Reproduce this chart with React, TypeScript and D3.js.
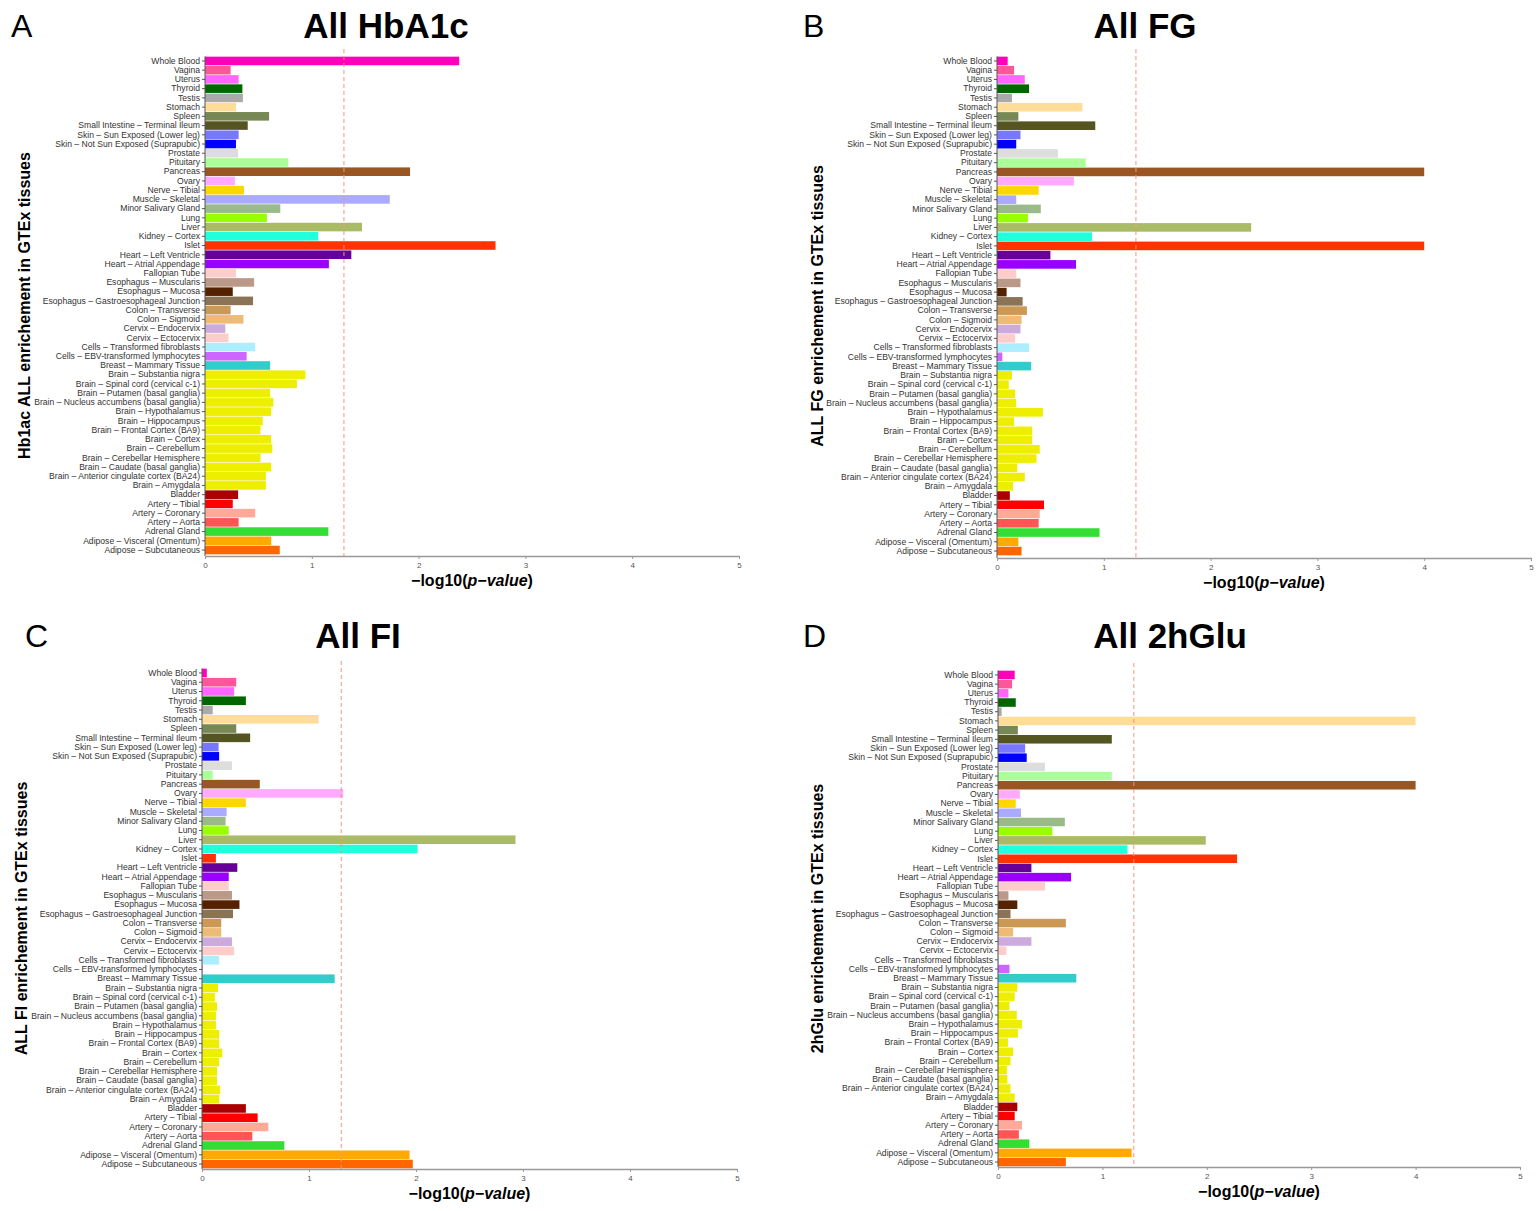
import React, { useEffect, useRef } from "react";
import * as d3 from "d3";

// GTEx tissues, top to bottom
const tissues = [
  "Whole Blood", "Vagina", "Uterus", "Thyroid", "Testis", "Stomach", "Spleen",
  "Small Intestine – Terminal Ileum", "Skin – Sun Exposed (Lower leg)",
  "Skin – Not Sun Exposed (Suprapubic)", "Prostate", "Pituitary", "Pancreas", "Ovary",
  "Nerve – Tibial", "Muscle – Skeletal", "Minor Salivary Gland", "Lung", "Liver",
  "Kidney – Cortex", "Islet", "Heart – Left Ventricle", "Heart – Atrial Appendage",
  "Fallopian Tube", "Esophagus – Muscularis", "Esophagus – Mucosa",
  "Esophagus – Gastroesophageal Junction", "Colon – Transverse", "Colon – Sigmoid",
  "Cervix – Endocervix", "Cervix – Ectocervix", "Cells – Transformed fibroblasts",
  "Cells – EBV-transformed lymphocytes", "Breast – Mammary Tissue",
  "Brain – Substantia nigra", "Brain – Spinal cord (cervical c-1)",
  "Brain – Putamen (basal ganglia)", "Brain – Nucleus accumbens (basal ganglia)",
  "Brain – Hypothalamus", "Brain – Hippocampus", "Brain – Frontal Cortex (BA9)",
  "Brain – Cortex", "Brain – Cerebellum", "Brain – Cerebellar Hemisphere",
  "Brain – Caudate (basal ganglia)", "Brain – Anterior cingulate cortex (BA24)",
  "Brain – Amygdala", "Bladder", "Artery – Tibial", "Artery – Coronary", "Artery – Aorta",
  "Adrenal Gland", "Adipose – Visceral (Omentum)", "Adipose – Subcutaneous",
];

const tissueColors = [
  "#FF00BB", "#FF5599", "#FF66FF", "#006600", "#AAAAAA", "#FFDD99", "#778855",
  "#555522", "#7777FF", "#0000FF", "#DDDDDD", "#AAFF99", "#995522", "#FFAAFF",
  "#FFD700", "#AAAAFF", "#99BB88", "#99FF00", "#AABB66", "#22FFDD", "#FF3300",
  "#660099", "#9900FF", "#FFCCCC", "#BB9988", "#552200", "#8B7355", "#CC9955",
  "#EEBB77", "#CCAADD", "#FFCCCC", "#AAEEFF", "#CC66FF", "#33CCCC",
  "#EEEE00", "#EEEE00", "#EEEE00", "#EEEE00", "#EEEE00", "#EEEE00", "#EEEE00",
  "#EEEE00", "#EEEE00", "#EEEE00", "#EEEE00", "#EEEE00", "#EEEE00",
  "#AA0000", "#FF0000", "#FFAA99", "#FF5555", "#33DD33", "#FFAA00", "#FF6600",
];

// -log10(p-value) per tissue
const hba1c = [
  2.38, 0.24, 0.315, 0.35, 0.355, 0.29, 0.6, 0.4, 0.315, 0.29, 0.31, 0.78, 1.92, 0.28,
  0.365, 1.73, 0.705, 0.58, 1.47, 1.06, 2.72, 1.37, 1.16, 0.29, 0.46, 0.26, 0.45, 0.24,
  0.36, 0.19, 0.22, 0.47, 0.39, 0.61, 0.94, 0.86, 0.61, 0.64, 0.62, 0.54, 0.52, 0.62,
  0.63, 0.52, 0.62, 0.57, 0.57, 0.31, 0.26, 0.47, 0.315, 1.155, 0.62, 0.7,
];
const fg = [
  0.1, 0.16, 0.26, 0.3, 0.14, 0.8, 0.2, 0.92, 0.22, 0.18, 0.57, 0.83, 4.0, 0.72, 0.39,
  0.18, 0.41, 0.29, 2.38, 0.89, 4.0, 0.5, 0.74, 0.18, 0.22, 0.09, 0.24, 0.28, 0.23,
  0.22, 0.17, 0.3, 0.05, 0.32, 0.14, 0.11, 0.17, 0.18, 0.43, 0.16, 0.33, 0.33, 0.4,
  0.37, 0.19, 0.26, 0.15, 0.12, 0.44, 0.4, 0.39, 0.96, 0.2, 0.23,
];
const fi = [
  0.045, 0.32, 0.3, 0.41, 0.1, 1.09, 0.32, 0.45, 0.155, 0.16, 0.28, 0.1, 0.54, 1.32,
  0.41, 0.23, 0.22, 0.25, 2.93, 2.015, 0.13, 0.33, 0.25, 0.25, 0.28, 0.35, 0.29, 0.18,
  0.18, 0.28, 0.3, 0.16, 0.005, 1.24, 0.15, 0.12, 0.14, 0.13, 0.13, 0.16, 0.16, 0.19,
  0.16, 0.14, 0.14, 0.17, 0.16, 0.41, 0.52, 0.62, 0.47, 0.77, 1.94, 1.97,
];
const glu2h = [
  0.16, 0.135, 0.1, 0.17, 0.035, 4.0, 0.19, 1.09, 0.26, 0.275, 0.45, 1.09, 4.0, 0.21,
  0.17, 0.22, 0.64, 0.52, 1.99, 1.24, 2.29, 0.32, 0.7, 0.45, 0.1, 0.185, 0.12, 0.65,
  0.145, 0.32, 0.08, 0.01, 0.11, 0.75, 0.185, 0.16, 0.11, 0.18, 0.23, 0.19, 0.095,
  0.145, 0.12, 0.085, 0.09, 0.12, 0.16, 0.185, 0.16, 0.23, 0.2, 0.3, 1.28, 0.65,
];

const xTicks = [0, 1, 2, 3, 4, 5];
const threshold = -Math.log10(0.05);

const panels = [
  { letter: "A", title: "All HbA1c", ylab: "Hb1ac ALL enrichement in GTEx tissues", values: hba1c,
    x0: 205, x5: 739, c0: 61, c1: 550, axisY: 556, ylabX: 30, letterX: 11, titleX: 386, topY: 0 },
  { letter: "B", title: "All FG", ylab: "ALL FG enrichement in GTEx tissues", values: fg,
    x0: 997, x5: 1531, c0: 61, c1: 551, axisY: 558, ylabX: 823, letterX: 803, titleX: 1145, topY: 0 },
  { letter: "C", title: "All FI", ylab: "ALL FI enrichement in GTEx tissues", values: fi,
    x0: 202, x5: 737, c0: 673, c1: 1164, axisY: 1169, ylabX: 27, letterX: 25, titleX: 358, topY: 610 },
  { letter: "D", title: "All 2hGlu", ylab: "2hGlu enrichement in GTEx tissues", values: glu2h,
    x0: 998, x5: 1520, c0: 675, c1: 1162, axisY: 1167, ylabX: 823, letterX: 803, titleX: 1170, topY: 610 },
];

const font = "'Liberation Sans', Arial, Helvetica, sans-serif";

export default function App() {
  const ref = useRef<SVGSVGElement>(null);

  useEffect(() => {
    const svg = d3.select(ref.current);
    svg.selectAll("*").remove();

    panels.forEach(p => {
      const g = svg.append("g");
      const step = (p.c1 - p.c0) / (tissues.length - 1);

      const x = d3.scaleLinear().domain([0, 5]).range([p.x0, p.x5]);
      const y = d3.scaleBand().domain(tissues)
        .range([p.c0 - step / 2, p.c1 + step / 2]).paddingInner(0.07).paddingOuter(0.03);

      g.selectAll(".bar")
        .data(tissues)
        .join("rect")
        .attr("class", "bar")
        .attr("x", x(0))
        .attr("y", d => y(d)!)
        .attr("width", (d, i) => x(p.values[i]) - x(0))
        .attr("height", y.bandwidth())
        .attr("fill", (d, i) => tissueColors[i]);

      // significance threshold p = 0.05
      g.append("line")
        .attr("x1", x(threshold)).attr("x2", x(threshold))
        .attr("y1", p.c0 - 12).attr("y2", p.axisY)
        .attr("stroke", "#F2957E").attr("stroke-width", 1)
        .attr("stroke-dasharray", "4,3");

      const yAxis = g.append("g")
        .attr("transform", `translate(${p.x0},0)`)
        .call(d3.axisLeft(y).tickSize(3).tickSizeOuter(0).tickPadding(2));
      yAxis.select(".domain").attr("stroke", "#555").attr("d", `M0,${p.c0 - step / 2}V${p.axisY}`);
      yAxis.selectAll(".tick line").attr("stroke", "#555");
      yAxis.selectAll("text").style("font-family", font).style("font-size", "8.6px").attr("fill", "#333");

      const xAxis = g.append("g")
        .attr("transform", `translate(0,${p.axisY})`)
        .call(d3.axisBottom(x).tickValues(xTicks).tickFormat(d3.format("d"))
          .tickSize(3).tickSizeOuter(0).tickPadding(3));
      xAxis.select(".domain").attr("stroke", "#999").attr("stroke-width", 1.6);
      xAxis.selectAll(".tick line").attr("stroke", "#999");
      xAxis.selectAll("text").style("font-family", font).style("font-size", "8px").attr("fill", "#555");

      const xlab = g.append("text")
        .attr("x", (p.x0 + p.x5) / 2)
        .attr("y", p.axisY + 30)
        .attr("text-anchor", "middle")
        .style("font-family", font).style("font-size", "16px").style("font-weight", "bold");
      xlab.append("tspan").text("−log10(");
      xlab.append("tspan").style("font-style", "italic").text("p−value");
      xlab.append("tspan").text(")");

      g.append("text")
        .attr("transform", `translate(${p.ylabX},${(p.c0 + p.c1) / 2}) rotate(-90)`)
        .attr("text-anchor", "middle")
        .style("font-family", font).style("font-size", "16px").style("font-weight", "bold")
        .text(p.ylab);

      g.append("text")
        .attr("x", p.titleX).attr("y", p.topY + 38)
        .attr("text-anchor", "middle")
        .style("font-family", font).style("font-size", "35px").style("font-weight", "bold")
        .text(p.title);

      g.append("text")
        .attr("x", p.letterX).attr("y", p.topY + 37)
        .style("font-family", font).style("font-size", "32px")
        .text(p.letter);
    });
  }, []);

  return (
    <svg ref={ref} width={1538} height={1211}
      style={{ position: "absolute", left: 0, top: 0, background: "#fff" }} />
  );
}
